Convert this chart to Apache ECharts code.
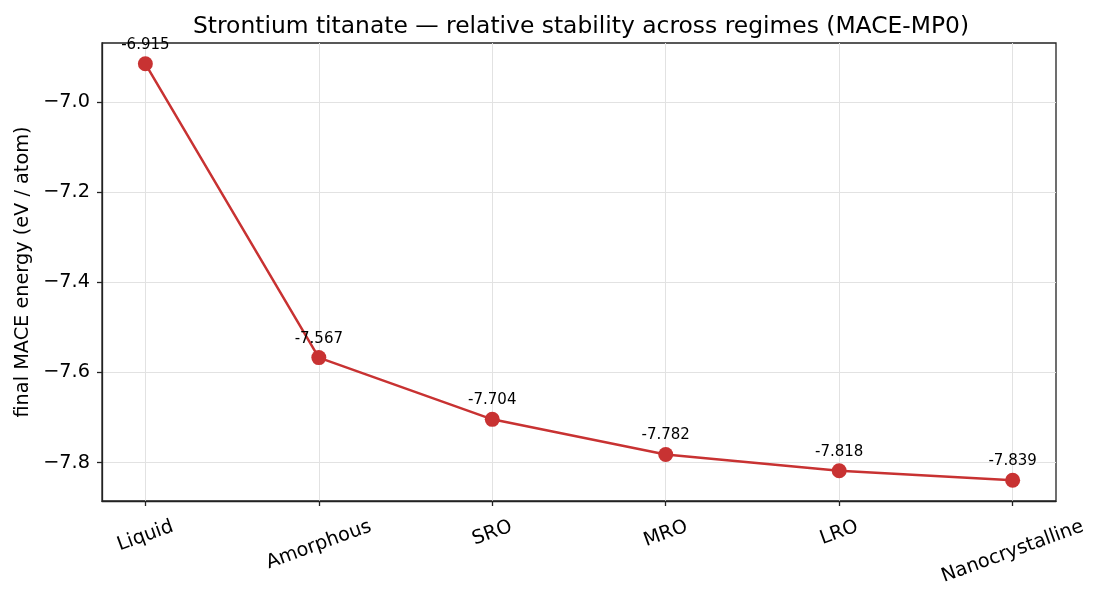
<!DOCTYPE html>
<html>
<head>
<meta charset="utf-8">
<script src="https://cdn.jsdelivr.net/npm/echarts@6/dist/echarts.min.js"></script>
<style>
  html, body { margin: 0; padding: 0; background: #fff; }
  #main { width: 1101px; height: 599px; }
</style>
</head>
<body>
<div id="main"></div>
<script>
var regimes = ['Liquid', 'Amorphous', 'SRO', 'MRO', 'LRO', 'Nanocrystalline'];
var energies = [-6.915, -7.567, -7.704, -7.782, -7.818, -7.839];
var yTicks = [-7.8, -7.6, -7.4, -7.2, -7.0];
var xTicks = [0, 1, 2, 3, 4, 5];

var FONT = '"DejaVu Sans", sans-serif';
var LABEL_SIZE = 19.3;
var RED = '#c83232';

// matplotlib style 5% margins
var lo = Math.min.apply(null, energies), hi = Math.max.apply(null, energies);
var pad = (hi - lo) * 0.05;

// rotated labels: push each one down so its box top lines up like matplotlib
var ctx = document.createElement('canvas').getContext('2d');
ctx.font = LABEL_SIZE + 'px ' + FONT;
var ang = 20 * Math.PI / 180;
var rich = {};
regimes.forEach(function (r, i) {
    var w = ctx.measureText(r).width;
    var p = w * Math.sin(ang) * Math.cos(ang);
    var q = w * Math.sin(ang) * Math.sin(ang);
    rich['l' + i] = { fontSize: LABEL_SIZE, fontFamily: FONT, color: '#000', padding: [p, q, 0, 0] };
});

var dom = document.getElementById('main');
var myChart = echarts.init(dom);
var option = {
    animation: false,
    backgroundColor: '#fff',
    textStyle: { fontFamily: FONT },
    title: {
        text: 'Strontium titanate \u2014 relative stability across regimes (MACE-MP0)',
        left: 576,
        textAlign: 'center',
        top: 10,
        textStyle: { fontFamily: FONT, fontSize: 23.4, fontWeight: 'normal', color: '#000' }
    },
    grid: {
        left: 102, right: 45, top: 43, bottom: 98,
        show: true, borderColor: '#222', borderWidth: 1.3
    },
    xAxis: {
        type: 'value',
        min: -0.25,
        max: 5.25,
        axisLine: { show: true, onZero: false, lineStyle: { color: '#222', width: 1.3 } },
        axisTick: { show: true, customValues: xTicks, length: 5, lineStyle: { color: '#222', width: 1.3 } },
        axisLabel: {
            customValues: xTicks,
            rotate: 20,
            align: 'center',
            verticalAlign: 'middle',
            margin: 25,
            formatter: function (v) { return '{l' + v + '|' + regimes[v] + '}'; },
            rich: rich
        },
        splitLine: { show: true, lineStyle: { color: '#e2e2e2', width: 1 } }
    },
    yAxis: {
        type: 'value',
        min: lo - pad,
        max: hi + pad,
        name: 'final MACE energy (eV / atom)',
        nameLocation: 'middle',
        nameGap: 69,
        nameTextStyle: { fontFamily: FONT, fontSize: LABEL_SIZE, color: '#000' },
        axisLine: { show: true, onZero: false, lineStyle: { color: '#222', width: 1.3 } },
        axisTick: { show: true, customValues: yTicks, length: 5, lineStyle: { color: '#222', width: 1.3 } },
        axisLabel: {
            customValues: yTicks,
            margin: 12,
            fontSize: LABEL_SIZE,
            fontFamily: FONT,
            color: '#000',
            formatter: function (v) { return v.toFixed(1).replace('-', '\u2212'); }
        },
        splitLine: { show: true, lineStyle: { color: '#e2e2e2', width: 1 } }
    },
    series: [{
        type: 'line',
        data: regimes.map(function (r, i) { return [i, energies[i]]; }),
        symbol: 'circle',
        symbolSize: 15,
        itemStyle: { color: RED },
        lineStyle: { color: RED, width: 2.5 },
        label: {
            show: true,
            position: 'top',
            distance: 4,
            fontSize: 15,
            fontFamily: FONT,
            color: '#000',
            formatter: function (p) { return p.value[1].toFixed(3); }
        }
    }]
};
myChart.setOption(option);
</script>
</body>
</html>
